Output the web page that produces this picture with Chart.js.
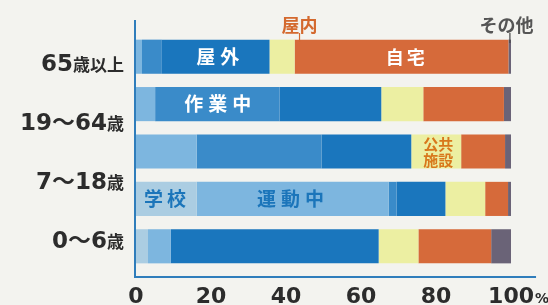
<!DOCTYPE html>
<html>
<head>
<meta charset="utf-8">
<title>年齢別 熱中症の発生場所</title>
<script src="https://cdn.jsdelivr.net/npm/chart.js"></script>
<style>
  html, body { margin: 0; padding: 0; background: #f3f3ef; }
  #wrap { width: 548px; height: 305px; }
</style>
</head>
<body>
<div id="wrap"><canvas id="placeChart"></canvas></div>
<script>
// bars top to bottom (the third bar has no age label of its own)
const rows = ['65歳以上', '19〜64歳', '', '7〜18歳', '0〜6歳'];
const ageLabels = ['65歳以上', '19〜64歳', '7〜18歳', '0〜6歳'];

// share of cases by place, %
const school    = [0,    0,    0,    16.2, 3.2];
const exercise  = [1.6,  5.1,  16.2, 51.2, 6.1];
const working   = [5.3,  33.2, 33.3, 2.1,  0];
const outdoors  = [28.7, 27.1, 23.9, 13.0, 55.4];
const publicFac = [6.7,  11.2, 13.3, 10.6, 10.6];
const home      = [57.0, 21.5, 11.7, 6.1,  19.4];
const other     = [0.7,  1.9,  1.6,  0.8,  5.3];

// labels written on / above the bars: x in %, row = bar index
const notes = [
    { text: '屋外',   x: 21.8, row: 0, color: '#ffffff', size: 19, gap: 5 },
    { text: '自宅',   x: 71.8, row: 0, color: '#ffffff', size: 18, gap: 3 },
    { text: '作業中', x: 21.8, row: 1, color: '#ffffff', size: 19, gap: 5 },
    { text: '学校',   x: 7.7,  row: 3, color: '#1b75ba', size: 19, gap: 4 },
    { text: '運動中', x: 41.2, row: 3, color: '#1b75ba', size: 19, gap: 5 }
];

const blues = { school: '#abcde2', exercise: '#7db6df', working: '#3a8bc9', outdoors: '#1a76bd' };

function ds(label, data, color) {
    return { label: label, data: data, backgroundColor: color, borderWidth: 0,
             barPercentage: 0.72, categoryPercentage: 1 };
}

const decorations = {
    id: 'decorations',
    afterDatasetsDraw(chart) {
        const ctx = chart.ctx;
        const a = chart.chartArea;
        const x = chart.scales.x, y = chart.scales.y, yAge = chart.scales.yAge;
        ctx.save();

        // frame
        ctx.strokeStyle = '#2f7dbb';
        ctx.lineWidth = 2;
        ctx.beginPath();
        ctx.moveTo(a.left - 1, a.top - 13);
        ctx.lineTo(a.left - 1, a.bottom + 7);
        ctx.lineTo(a.right + 25, a.bottom + 7);
        ctx.stroke();

        // age labels, 歳 etc. in a smaller size
        ctx.textAlign = 'right';
        ctx.textBaseline = 'alphabetic';
        ctx.fillStyle = '#2c2c2c';
        ageLabels.forEach((lab, i) => {
            const py = yAge.getPixelForValue(i) + 8;
            let px = a.left - 12;
            lab.match(/[0-9〜]+|[^0-9〜]+/g).reverse().forEach(p => {
                const big = /[0-9〜]/.test(p);
                ctx.font = big ? 'bold 23px "DejaVu Sans", "Noto Sans CJK JP"'
                               : 'bold 17px "Noto Sans CJK JP"';
                ctx.fillText(p, px, py);
                px -= ctx.measureText(p).width;
            });
        });

        // small % after 100
        ctx.font = 'bold 22px "DejaVu Sans"';
        const w100 = ctx.measureText('100').width;
        ctx.font = 'bold 14px "DejaVu Sans"';
        ctx.textAlign = 'left';
        ctx.fillText('%', x.getPixelForValue(100) + w100 / 2 + 1, a.bottom + 33);

        // text on the bars
        ctx.textAlign = 'center';
        ctx.textBaseline = 'middle';
        notes.forEach(n => {
            ctx.font = 'bold ' + n.size + 'px "Noto Sans CJK JP"';
            ctx.letterSpacing = n.gap + 'px';
            ctx.fillStyle = n.color;
            ctx.fillText(n.text, x.getPixelForValue(n.x) + n.gap / 2, y.getPixelForValue(n.row));
        });
        ctx.letterSpacing = '0px';

        // 公共施設 in two lines
        ctx.font = 'bold 15px "Noto Sans CJK JP"';
        ctx.fillStyle = '#d8781c';
        const pcx = x.getPixelForValue(80.6), pcy = y.getPixelForValue(2);
        ctx.fillText('公共', pcx, pcy - 7);
        ctx.fillText('施設', pcx, pcy + 9);

        // 屋内 and その他 above the top bar
        const top = a.top - 8;
        ctx.font = 'bold 18px "Noto Sans CJK JP"';
        ctx.fillStyle = '#d4692e';
        ctx.fillText('屋内', x.getPixelForValue(43.6), top);
        ctx.fillStyle = '#555555';
        ctx.fillText('その他', x.getPixelForValue(98.8), top);
        ctx.lineWidth = 1.2;
        ctx.strokeStyle = '#d4692e';
        ctx.beginPath();
        ctx.moveTo(x.getPixelForValue(43.6), a.top);
        ctx.lineTo(x.getPixelForValue(43.6), a.top + 9);
        ctx.stroke();
        ctx.strokeStyle = '#444444';
        ctx.beginPath();
        ctx.moveTo(x.getPixelForValue(99.7), a.top);
        ctx.lineTo(x.getPixelForValue(99.7), a.top + 10);
        ctx.stroke();

        ctx.restore();
    }
};

new Chart(document.getElementById('placeChart'), {
    type: 'bar',
    data: {
        labels: rows,
        datasets: [
            ds('学校', school, blues.school),
            ds('運動中', exercise, blues.exercise),
            ds('作業中', working, blues.working),
            ds('屋外', outdoors, blues.outdoors),
            ds('公共施設', publicFac, '#ecefa2'),
            ds('自宅', home, '#d66a3a'),
            ds('その他', other, '#6a6377')
        ]
    },
    options: {
        indexAxis: 'y',
        responsive: true,
        maintainAspectRatio: false,
        animation: false,
        layout: { padding: { left: 136, right: 36, top: 33, bottom: 0 } },
        plugins: { legend: { display: false }, tooltip: { enabled: false } },
        scales: {
            x: {
                stacked: true,
                min: 0,
                max: 100,
                grid: { display: false, drawTicks: false },
                border: { display: false },
                ticks: {
                    stepSize: 20,
                    padding: 14,
                    color: '#2c2c2c',
                    font: { family: 'DejaVu Sans', size: 22, weight: 'bold' }
                },
                afterFit: s => { s.height = 35; }
            },
            y: { stacked: true, display: false },
            yAge: {
                type: 'category',
                labels: ageLabels,
                offset: true,
                display: false
            }
        }
    },
    plugins: [decorations]
});
</script>
</body>
</html>
